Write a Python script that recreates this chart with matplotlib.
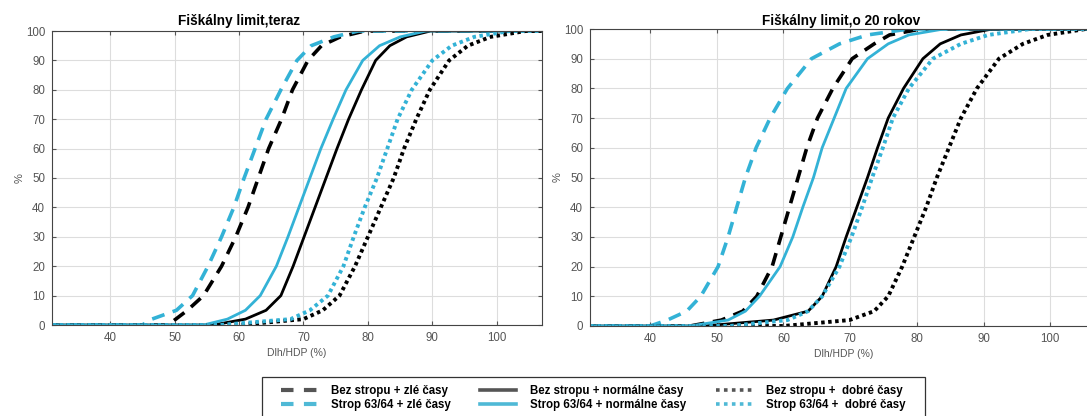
import matplotlib
matplotlib.use('Agg')
import matplotlib.pyplot as plt
from matplotlib.lines import Line2D
from matplotlib.patches import Rectangle

plt.rcParams['font.family'] = ['Liberation Sans', 'DejaVu Sans']

# cumulative share (%) at which the debt levels below were read
PCT = [0, 0, 2, 5, 10, 20, 30, 40, 50, 60, 70, 80, 90, 95, 98, 100, 100]

# debt/GDP (%) reached at each level of PCT, panel "teraz"
now_black_bad = [30, 49.0, 50.2, 52.0, 54.5, 57.3, 59.5, 61.4, 63.0, 64.6, 66.6, 68.3, 70.7, 72.8, 75.7, 79.5, 108]
now_cyan_bad = [30, 45.0, 46.5, 50.3, 52.8, 55.2, 57.3, 59.2, 60.8, 62.5, 64.2, 66.5, 69.0, 71.2, 74.7, 78.5, 108]
now_black_norm = [30, 56.0, 61.0, 64.2, 66.5, 68.4, 70.1, 71.8, 73.5, 75.2, 77.0, 79.0, 81.2, 83.4, 86.0, 89.7, 108]
now_cyan_norm = [30, 54.5, 58.2, 61.0, 63.3, 65.8, 67.6, 69.3, 71.0, 72.7, 74.6, 76.6, 79.2, 81.8, 85.0, 89.0, 108]
now_black_good = [30, 60.0, 70.0, 73.0, 75.6, 78.0, 80.0, 82.0, 84.0, 85.6, 87.5, 89.6, 92.6, 95.5, 99.0, 104.5, 108]
now_cyan_good = [30, 57.0, 68.0, 71.0, 73.8, 76.2, 77.8, 79.5, 81.4, 83.0, 84.6, 86.8, 90.0, 93.0, 96.5, 102.0, 108]

# panel "o 20 rokov"
fut_black_bad = [30, 46.0, 50.7, 53.9, 56.0, 58.3, 59.6, 60.9, 62.2, 63.5, 65.1, 67.4, 70.3, 73.6, 75.9, 80.6, 108]
fut_cyan_bad = [30, 40.0, 42.6, 45.5, 47.6, 50.2, 51.7, 53.0, 54.3, 55.9, 58.0, 60.6, 64.2, 68.4, 72.6, 78.8, 108]
fut_black_norm = [30, 48.0, 58.5, 63.7, 65.8, 67.9, 69.4, 71.0, 72.6, 74.1, 75.7, 78.0, 80.9, 83.5, 86.6, 91.3, 108]
fut_cyan_norm = [30, 46.0, 51.7, 54.3, 56.4, 59.5, 61.4, 62.9, 64.5, 65.8, 67.6, 69.4, 72.6, 75.7, 78.8, 84.0, 108]
fut_black_good = [30, 60.0, 69.9, 73.6, 75.7, 77.8, 79.6, 81.4, 83.0, 84.8, 86.6, 89.0, 92.3, 95.9, 99.6, 105.3, 108]
fut_cyan_good = [30, 52.0, 60.6, 63.7, 65.8, 68.4, 70.2, 71.8, 73.3, 74.9, 76.4, 78.8, 82.4, 86.6, 90.7, 97.0, 108]

TITLES = ['Fiškálny limit,teraz', 'Fiškálny limit,o 20 rokov']
LABELS = ['Bez stropu + zlé časy', 'Strop 63/64 + zlé časy',
          'Bez stropu + normálne časy', 'Strop 63/64 + normálne časy',
          'Bez stropu +  dobré časy', 'Strop 63/64 +  dobré časy']

CYAN = '#33b2d6'
BLACK = '#000000'
DASH = (0, (3.6, 2.4))
DOT = (0, (0.9, 0.9))

W, H = 1087, 416
fig = plt.figure(figsize=(W / 100, H / 100), dpi=100)
ax1 = fig.add_axes([52 / W, 1 - 325 / H, 490 / W, 294 / H])
ax2 = fig.add_axes([590 / W, 1 - 326 / H, 507 / W, 297 / H])

panels = [
  (ax1, [now_black_bad, now_cyan_bad, now_black_norm, now_cyan_norm, now_black_good, now_cyan_good]),
  (ax2, [fut_black_bad, fut_cyan_bad, fut_black_norm, fut_cyan_norm, fut_black_good, fut_cyan_good]),
]

styles = [(BLACK, DASH, 2.6), (CYAN, DASH, 2.6),
          (BLACK, '-', 2.0), (CYAN, '-', 2.0),
          (BLACK, DOT, 2.8), (CYAN, DOT, 2.8)]

for ax, series in panels:
  for xs, (col, ls, lw) in zip(series, styles):
    ax.plot(xs, PCT, color=col, linestyle=ls, linewidth=lw)
  ax.set_xlim(31, 107)
  ax.set_ylim(0, 100)
  ax.set_xticks(range(40, 101, 10))
  ax.set_yticks(range(0, 101, 10))
  ax.grid(True, color='#dddddd', linewidth=0.8)
  ax.set_axisbelow(True)
  ax.tick_params(direction='in', length=3, labelsize=8.3, colors='#555555',
                 top=True, right=True, pad=5)
  for sp in ax.spines.values():
    sp.set_color('#444444')
    sp.set_linewidth(0.8)
  ax.set_xlabel('Dlh/HDP (%)', fontsize=7.5, color='#555555', labelpad=3)
  ax.set_ylabel('%', fontsize=8, color='#555555', labelpad=1)

ax1.text(0.382, 1.01, TITLES[0], transform=ax1.transAxes, ha='center',
         va='bottom', fontsize=9.8, fontweight='bold')
ax2.text(0.495, 1.003, TITLES[1], transform=ax2.transAxes, ha='center',
         va='bottom', fontsize=9.8, fontweight='bold')

# legend with lighter handles like the original, framed by a separate box
leg_cols = ['#555555', '#4fb9d6'] * 3
leg_ls = [(0, (3, 2.5)), (0, (3, 2.5)), '-', '-', (0, (1, 1.2)), (0, (1, 1.2))]
leg_lw = [3.0, 3.0, 2.6, 2.6, 2.6, 2.6]
handles = [Line2D([0], [0], color=c, linestyle=l, linewidth=w)
           for c, l, w in zip(leg_cols, leg_ls, leg_lw)]
fig.legend(handles, LABELS, ncol=3, loc='upper center',
           bbox_to_anchor=(593 / W, 1 - 375 / H),
           prop={'size': 8.3, 'weight': 'bold'}, handlelength=3.1,
           columnspacing=2.6, labelspacing=0.15, frameon=False,
           borderpad=0.4, handletextpad=1.2)
fig.patches.append(Rectangle((262 / W, -0.02), 663 / W, 1 - 377 / H + 0.02,
                             transform=fig.transFigure, fill=False,
                             edgecolor='#333333', linewidth=0.9))

fig.savefig('out.png', dpi=100)
